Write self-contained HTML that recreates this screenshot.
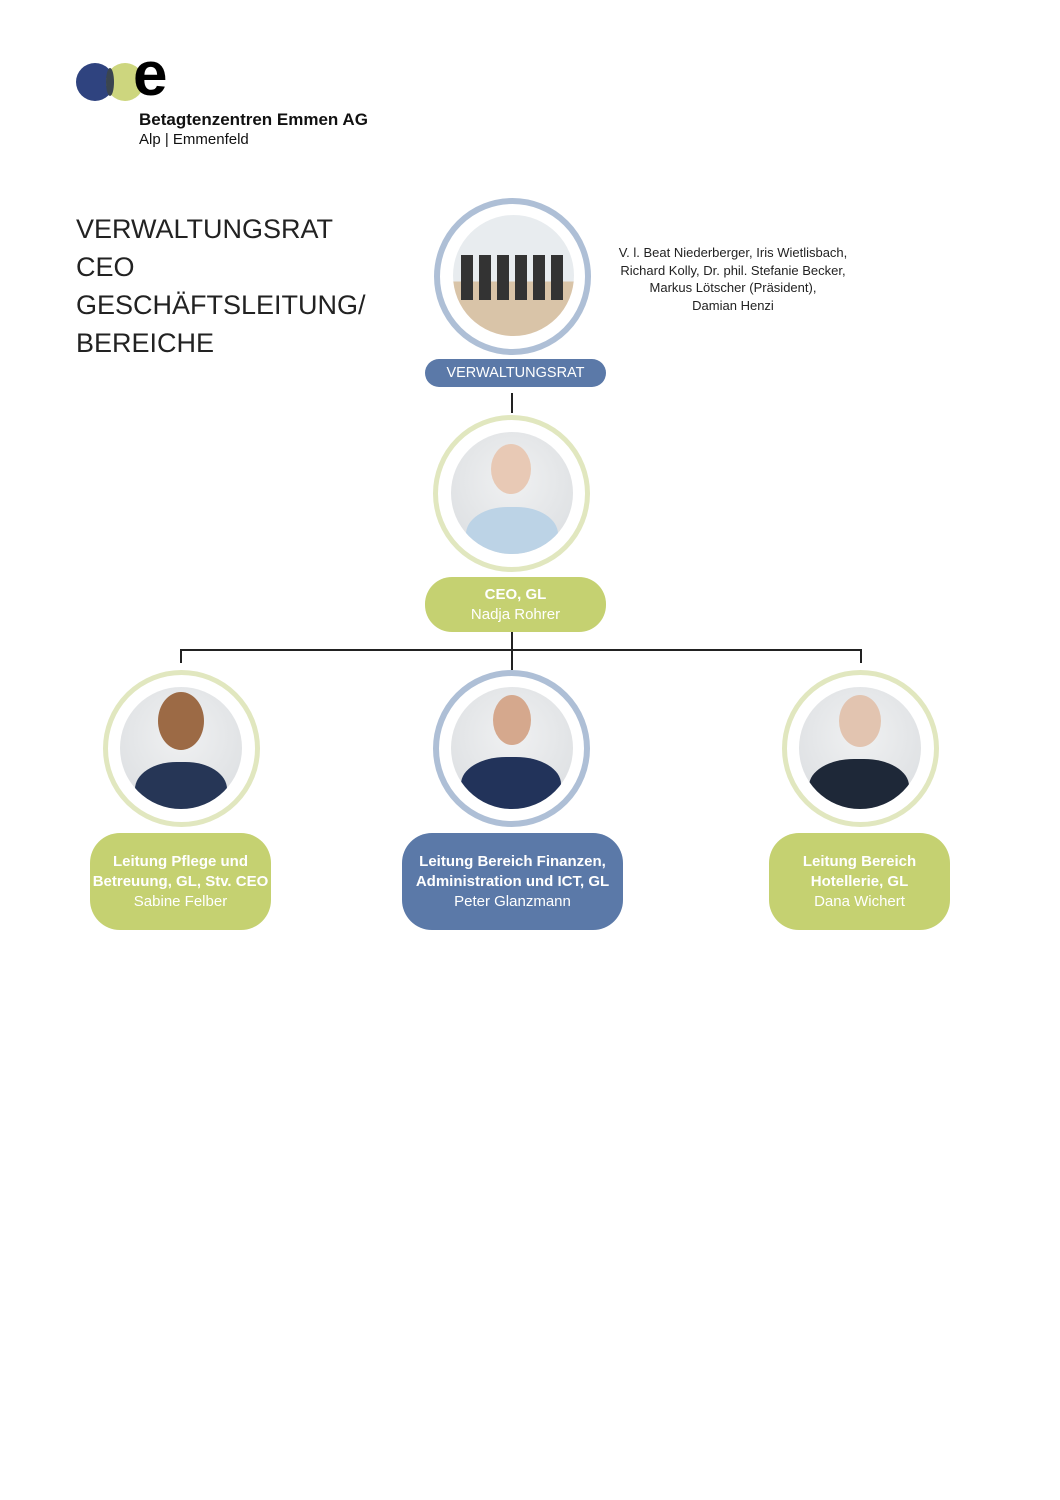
<!DOCTYPE html>
<html><head><meta charset="utf-8"><style>
body{margin:0;background:#fff;width:1060px;height:1500px;position:relative;font-family:"Liberation Sans",sans-serif;overflow:hidden}
.a{position:absolute}
.ring{position:absolute;border-radius:50%;box-sizing:border-box;background:#fff}
.ph{position:absolute;border-radius:50%;overflow:hidden;background:radial-gradient(circle at 50% 40%,#f0f1f2,#d9dcdf)}
.pill{position:absolute;color:#fff;text-align:center;display:flex;flex-direction:column;justify-content:center;font-size:15px;line-height:20px}
.pill b{font-weight:bold}
.ln{position:absolute;background:#222}
</style></head><body>
<!-- logo -->
<div class="a" style="left:76px;top:63px;width:38px;height:38px;border-radius:50%;background:#2f437f"></div>
<div class="a" style="left:106px;top:63px;width:38px;height:38px;border-radius:50%;background:#cdd67e"></div>
<div class="a" style="left:106px;top:68px;width:8px;height:28px;background:#3a4550;border-radius:50%"></div>
<div class="a" style="left:133px;top:44px;font-size:62px;font-weight:bold;color:#000;line-height:62px">e</div>
<div class="a" style="left:139px;top:110px;font-size:17px;font-weight:bold;color:#111">Betagtenzentren Emmen AG</div>
<div class="a" style="left:139px;top:131px;font-size:15px;color:#111">Alp | Emmenfeld</div>
<div class="a" style="left:76px;top:210px;font-size:27px;line-height:38px;color:#222">VERWALTUNGSRAT<br>CEO<br>GESCHÄFTSLEITUNG/<br>BEREICHE</div>
<div class="a" style="left:583px;top:244px;width:300px;text-align:center;font-size:13px;line-height:17.5px;color:#222">V. l. Beat Niederberger, Iris Wietlisbach,<br>Richard Kolly, Dr. phil. Stefanie Becker,<br>Markus Lötscher (Präsident),<br>Damian Henzi</div>
<!-- lines -->
<div class="ln" style="left:511px;top:393px;width:2px;height:20px"></div>
<div class="ln" style="left:511px;top:632px;width:2px;height:38px"></div>
<div class="ln" style="left:180px;top:649px;width:682px;height:2px"></div>
<div class="ln" style="left:180px;top:649px;width:2px;height:14px"></div>
<div class="ln" style="left:860px;top:649px;width:2px;height:14px"></div>
<!-- circles -->
<div class="ring" style="left:434px;top:198px;width:157px;height:157px;border:6px solid #aebfd6"></div>
<div class="ph" style="left:453px;top:215px;width:121px;height:121px;background:linear-gradient(#e8ecef 0 55%,#d9c4a8 55%)">
<div class="a" style="left:8px;top:40px;width:105px;height:45px;background:repeating-linear-gradient(90deg,#333 0 12px,transparent 12px 18px)"></div></div>
<div class="ring" style="left:433px;top:415px;width:157px;height:157px;border:5px solid #e1e7bf"></div>
<div class="ph" style="left:451px;top:432px;width:122px;height:122px"><div class="a" style="left:15px;top:75px;width:92px;height:60px;border-radius:45% 45% 0 0;background:#bcd3e6"></div><div class="a" style="left:40px;top:12px;width:40px;height:50px;border-radius:50%;background:#e8c9b5"></div></div>
<div class="ring" style="left:103px;top:670px;width:157px;height:157px;border:5px solid #e1e7bf"></div>
<div class="ph" style="left:120px;top:687px;width:122px;height:122px"><div class="a" style="left:15px;top:75px;width:92px;height:60px;border-radius:45% 45% 0 0;background:#263656"></div><div class="a" style="left:38px;top:5px;width:46px;height:58px;border-radius:50%;background:#9c6a45"></div></div>
<div class="ring" style="left:433px;top:670px;width:157px;height:157px;border:6px solid #aebfd6"></div>
<div class="ph" style="left:451px;top:687px;width:122px;height:122px"><div class="a" style="left:10px;top:70px;width:100px;height:60px;border-radius:45% 45% 0 0;background:#22335a"></div><div class="a" style="left:42px;top:8px;width:38px;height:50px;border-radius:50%;background:#d5a88d"></div></div>
<div class="ring" style="left:782px;top:670px;width:157px;height:157px;border:5px solid #e1e7bf"></div>
<div class="ph" style="left:799px;top:687px;width:122px;height:122px"><div class="a" style="left:10px;top:72px;width:100px;height:60px;border-radius:45% 45% 0 0;background:#1e2838"></div><div class="a" style="left:40px;top:8px;width:42px;height:52px;border-radius:50%;background:#e2c4b0"></div></div>
<!-- pills -->
<div class="pill" style="left:425px;top:359px;width:181px;height:28px;border-radius:14px;background:#5b79a8;font-size:14.5px">VERWALTUNGSRAT</div>
<div class="pill" style="left:425px;top:577px;width:181px;height:55px;border-radius:27px;background:#c5d171"><b>CEO, GL</b>Nadja Rohrer</div>
<div class="pill" style="left:90px;top:833px;width:181px;height:97px;border-radius:30px;background:#c5d171"><b>Leitung Pflege und<br>Betreuung, GL, Stv. CEO</b>Sabine Felber</div>
<div class="pill" style="left:402px;top:833px;width:221px;height:97px;border-radius:30px;background:#5b79a8"><b>Leitung Bereich Finanzen,<br>Administration und ICT, GL</b>Peter Glanzmann</div>
<div class="pill" style="left:769px;top:833px;width:181px;height:97px;border-radius:30px;background:#c5d171"><b>Leitung Bereich<br>Hotellerie, GL</b>Dana Wichert</div>
</body></html>
